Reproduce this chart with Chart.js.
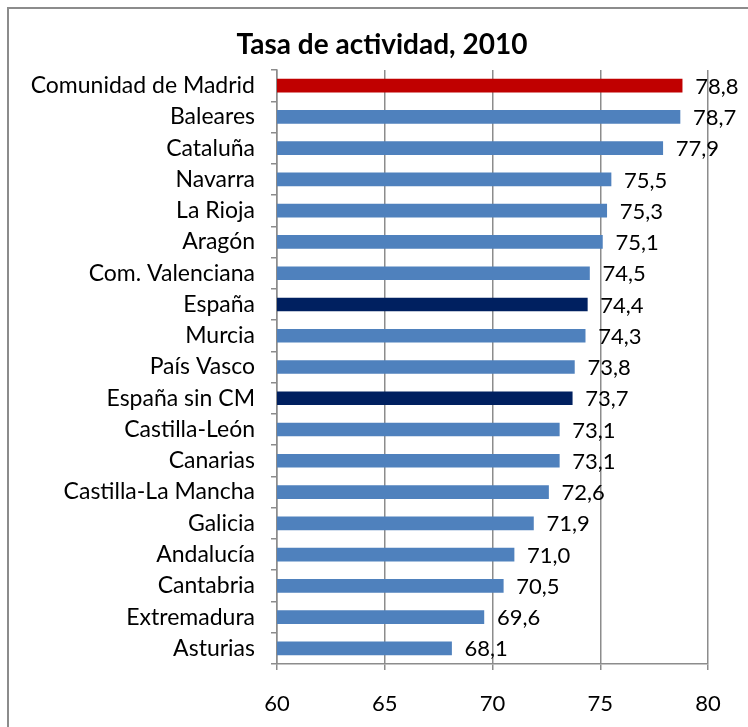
<!DOCTYPE html>
<html>
<head>
<meta charset="utf-8">
<script src="https://cdn.jsdelivr.net/npm/chart.js@4"></script>
<style>
    body { margin: 0; background: #fff; }
    #wrap { position: relative; width: 748px; height: 727px; }
    #frame {
        position: absolute; left: 7px; top: 7px; right: -10px; bottom: -10px;
        border: 2px solid #8c8c8c;
    }
    canvas { position: absolute; left: 0; top: 0; }
</style>
</head>
<body>
<div id="wrap">
    <div id="frame"></div>
    <canvas id="chart" width="748" height="727"></canvas>
</div>
<script>
// Data
const regions = [
    'Comunidad de Madrid', 'Baleares', 'Cataluña', 'Navarra', 'La Rioja', 'Aragón',
    'Com. Valenciana', 'España', 'Murcia', 'País Vasco', 'España sin CM', 'Castilla-León',
    'Canarias', 'Castilla-La Mancha', 'Galicia', 'Andalucía', 'Cantabria', 'Extremadura', 'Asturias'
];
const activityRate = [
    78.8, 78.7, 77.9, 75.5, 75.3, 75.1, 74.5, 74.4, 74.3, 73.8,
    73.7, 73.1, 73.1, 72.6, 71.9, 71.0, 70.5, 69.6, 68.1
];
const xTicks = [60, 65, 70, 75, 80];

const FONT = "Lato, 'Open Sans', sans-serif";

// Madrid in red, Spain totals in navy, the rest blue
function barColor(name) {
    if (name === 'Comunidad de Madrid') return '#C00000';
    if (name === 'España' || name === 'España sin CM') return '#002060';
    return '#4F81BD';
}

// Title + value labels drawn by hand
const labelsPlugin = {
    id: 'labelsPlugin',
    afterDatasetsDraw(chart) {
        const ctx = chart.ctx;
        const meta = chart.getDatasetMeta(0);
        ctx.save();
        ctx.fillStyle = '#000';
        ctx.font = '22px ' + FONT;
        ctx.textBaseline = 'middle';
        ctx.textAlign = 'left';
        meta.data.forEach((bar, i) => {
            const txt = activityRate[i].toFixed(1).replace('.', ',');
            ctx.fillText(txt, bar.x + 13, bar.y + 1);
        });
        ctx.font = 'bold 28px ' + FONT;
        ctx.textAlign = 'center';
        ctx.fillText('Tasa de actividad, 2010', 382, 45);
        ctx.restore();
    }
};

const ctx = document.getElementById('chart').getContext('2d');
new Chart(ctx, {
    type: 'bar',
    data: {
        labels: regions,
        datasets: [{
            data: activityRate,
            backgroundColor: regions.map(barColor),
            barThickness: 13,
            borderWidth: 0
        }]
    },
    options: {
        indexAxis: 'y',
        responsive: false,
        animation: false,
        layout: { padding: { top: 70, right: 40, bottom: 0, left: 0 } },
        plugins: {
            legend: { display: false },
            tooltip: { enabled: false }
        },
        scales: {
            x: {
                min: 60,
                max: 80,
                afterBuildTicks: (scale) => { scale.ticks = xTicks.map(v => ({ value: v })); },
                afterFit: (scale) => { scale.height = 63; },
                grid: { color: '#8c8c8c', lineWidth: 1.5, tickLength: 6 },
                border: { color: '#8c8c8c', width: 1.5 },
                ticks: { color: '#000', font: { family: FONT, size: 22 }, padding: 21 }
            },
            y: {
                afterFit: (scale) => { scale.width = 277; },
                grid: { offset: true, drawOnChartArea: false, color: '#8c8c8c', lineWidth: 1.5, tickLength: 6 },
                border: { color: '#8c8c8c', width: 1.5 },
                ticks: { color: '#000', font: { family: FONT, size: 23 }, padding: 16, autoSkip: false }
            }
        }
    },
    plugins: [labelsPlugin]
});
</script>
</body>
</html>
